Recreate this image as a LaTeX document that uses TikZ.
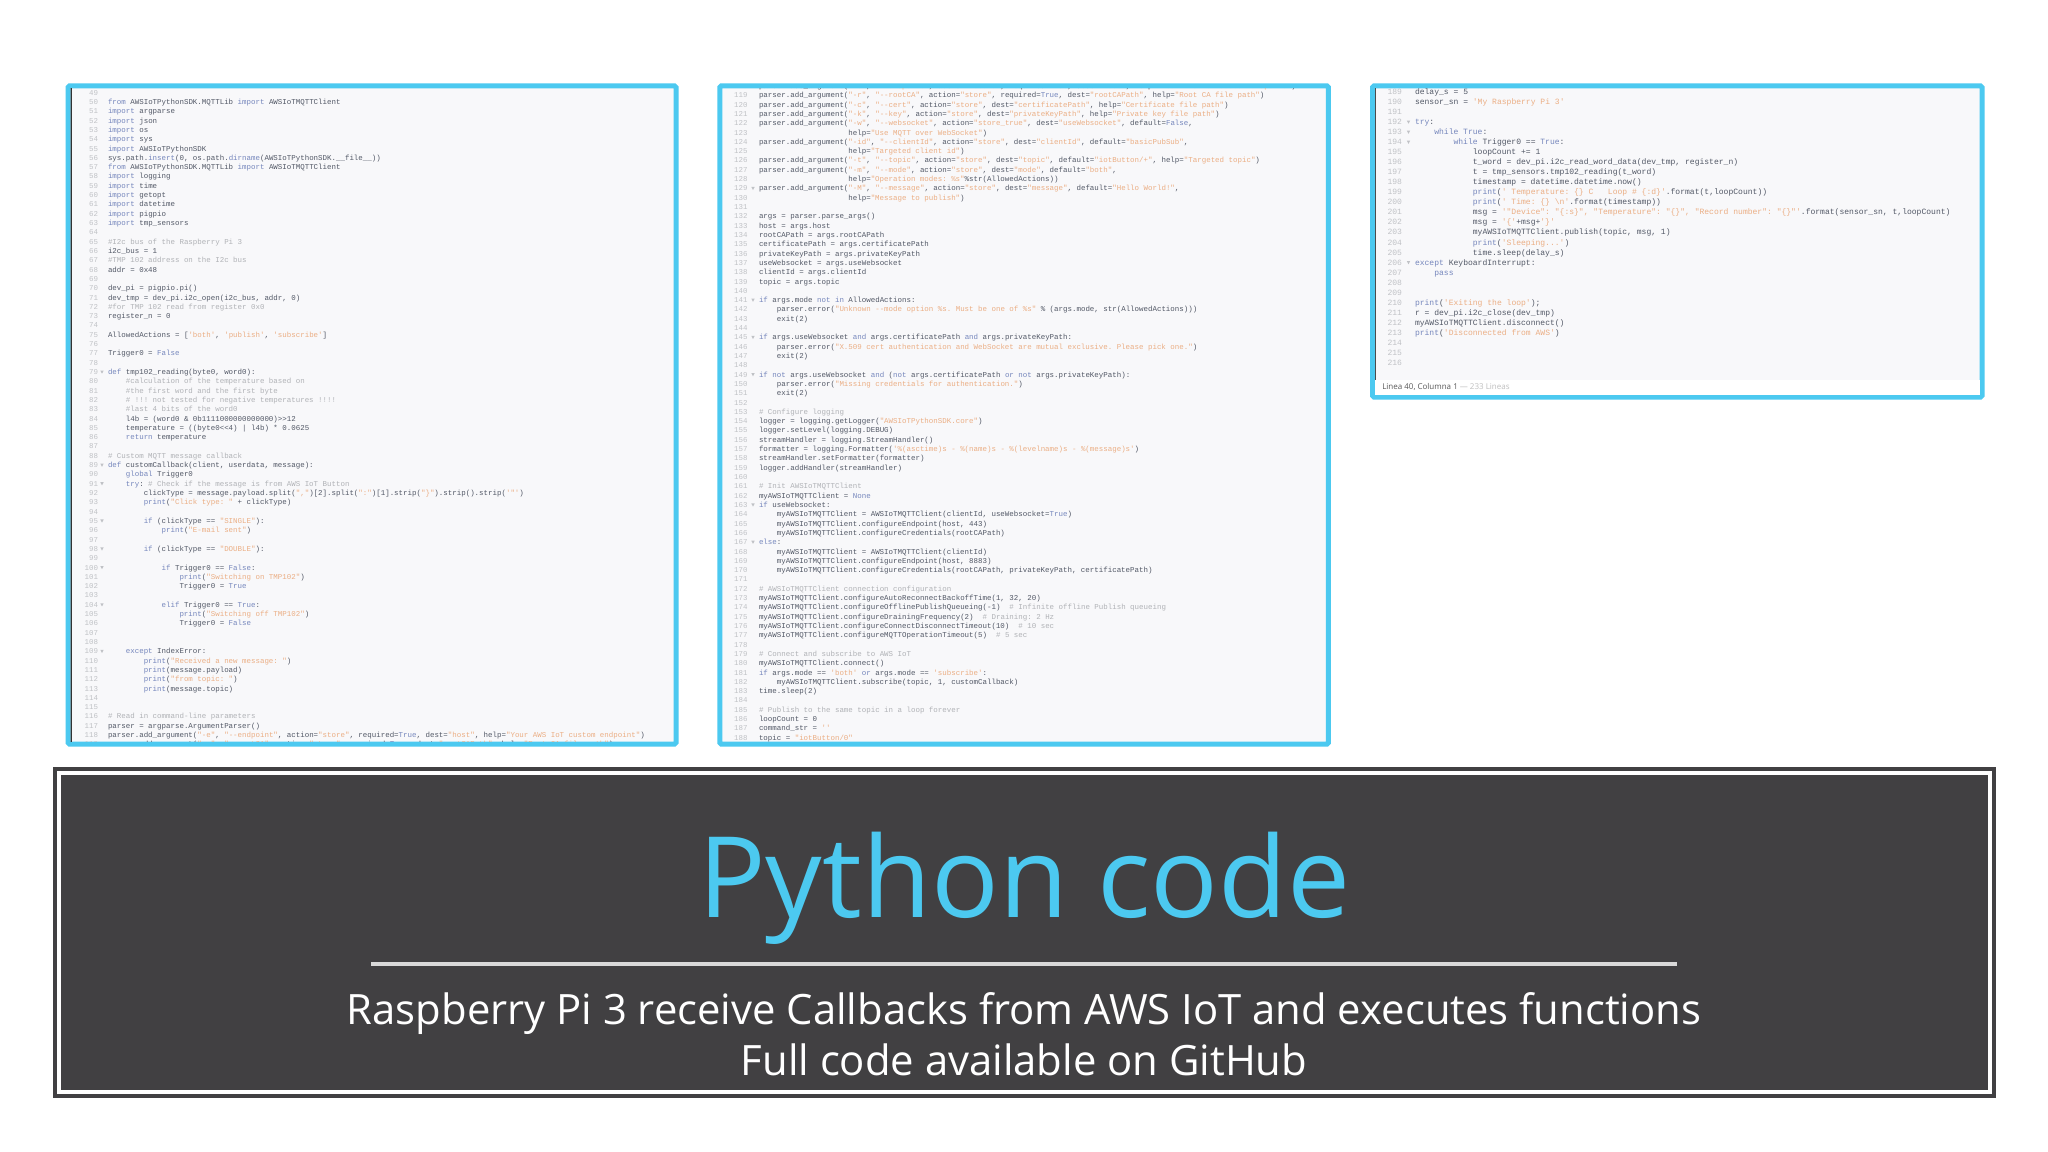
\documentclass[tikz,border=0pt]{standalone}
\usepackage{fontspec}
\setmainfont{Open Sans}
\setmonofont{Liberation Mono}
\definecolor{frameblue}{HTML}{4CC9F0}
\definecolor{darkbox}{HTML}{414042}
\definecolor{panelbg}{HTML}{F8F8FA}
\definecolor{codetxt}{HTML}{525866}
\definecolor{kwtxt}{HTML}{7586BC}
\definecolor{sgtxt}{HTML}{EBAE84}
\definecolor{cmtxt}{HTML}{B0B2B6}
\definecolor{nmtxt}{HTML}{C0C2C6}
\definecolor{rulegray}{HTML}{D9D9D9}
\newcommand\kw[1]{\textcolor{kwtxt}{#1}}
\newcommand\sg[1]{\textcolor{sgtxt}{#1}}
\newcommand\cmt[1]{\textcolor{cmtxt}{#1}}
\def\codefont{\fontsize{5.59}{7}\selectfont}
\def\cx{0}\def\cy{0}\def\cw{4.47}\def\dy{9.31}
\newcounter{linecount}
\newcommand\codeln[2][0]{%
  \node[codeline] (L\thelinecount) at ({\cx+#1*\cw},\cy) {\strut #2};%
  \stepcounter{linecount}%
  \pgfmathsetmacro\cy{\cy+\dy}}
\newcommand\blankln{\stepcounter{linecount}\pgfmathsetmacro\cy{\cy+\dy}}
\newcommand\foldmark[2]{\fill[nmtxt] ({#1-1.7},{#2-4}) -- ({#1+1.7},{#2-4}) -- (#1,{#2-0.8}) -- cycle;}
\tikzset{
  panel/.style={draw=frameblue,line width=3.75pt,fill=panelbg,rounded corners=1pt},
  codeline/.style={anchor=base west,inner sep=0pt,outer sep=0pt,text=codetxt,font=\ttfamily\codefont},
  lnum/.style={anchor=base east,inner sep=0pt,outer sep=0pt,text=nmtxt,font=\ttfamily\codefont},
}
\begin{document}
\begin{tikzpicture}[x=0.75pt,y=-0.75pt]
\useasboundingbox (0,0) rectangle (2048,1152);
\fill[white] (0,0) rectangle (2048,1152);

% ---------- panel 1
\draw[panel] (68,86) rectangle (676,744);
\begin{scope}
\clip (70.5,88.5) rectangle (673.5,741.5);
\fill[black!80] (69,88) rectangle (71.6,742);
\foreach \n in {49,...,119} {\node[lnum] at (98,{95.2+(\n-49)*9.31}) {\n};}
\foreach \n in {79,89,91,95,98,100,104,109} {\foldmark{102}{95.2+(\n-49)*9.31}}
\def\cx{108}\def\cy{95.2}\def\cw{4.47}\def\dy{9.31}
\blankln
\codeln{\kw{from} AWSIoTPythonSDK.MQTTLib \kw{import} AWSIoTMQTTClient}
\codeln{\kw{import} argparse}
\codeln{\kw{import} json}
\codeln{\kw{import} os}
\codeln{\kw{import} sys}
\codeln{\kw{import} AWSIoTPythonSDK}
\codeln{sys.path.\kw{insert}(0, os.path.\kw{dirname}(AWSIoTPythonSDK.\_\_file\_\_))}
\codeln{\kw{from} AWSIoTPythonSDK.MQTTLib \kw{import} AWSIoTMQTTClient}
\codeln{\kw{import} logging}
\codeln{\kw{import} time}
\codeln{\kw{import} getopt}
\codeln{\kw{import} datetime}
\codeln{\kw{import} pigpio}
\codeln{\kw{import} tmp\_sensors}
\blankln
\codeln{\cmt{\#I2c bus of the Raspberry Pi 3}}
\codeln{i2c\_bus = 1}
\codeln{\cmt{\#TMP 102 address on the I2c bus}}
\codeln{addr = 0x48}
\blankln
\codeln{dev\_pi = pigpio.pi()}
\codeln{dev\_tmp = dev\_pi.i2c\_open(i2c\_bus, addr, 0)}
\codeln{\cmt{\#for TMP 102 read from register 0x0}}
\codeln{register\_n = 0}
\blankln
\codeln{AllowedActions = [\sg{'both'}, \sg{'publish'}, \sg{'subscribe'}]}
\blankln
\codeln{Trigger0 = \kw{False}}
\blankln
\codeln{\kw{def} tmp102\_reading(byte0, word0):}
\codeln[4]{\cmt{\#calculation of the temperature based on}}
\codeln[4]{\cmt{\#the first word and the first byte}}
\codeln[4]{\cmt{\# !!! not tested for negative temperatures !!!!}}
\codeln[4]{\cmt{\#last 4 bits of the word0}}
\codeln[4]{l4b = (word0 \& 0b1111000000000000)>>12}
\codeln[4]{temperature = ((byte0<<4) | l4b) * 0.0625}
\codeln[4]{\kw{return} temperature}
\blankln
\codeln{\cmt{\# Custom MQTT message callback}}
\codeln{\kw{def} customCallback(client, userdata, message):}
\codeln[4]{\kw{global} Trigger0}
\codeln[4]{\kw{try}: \cmt{\# Check if the message is from AWS IoT Button}}
\codeln[8]{clickType = message.payload.split(\sg{","})[2].split(\sg{":"})[1].strip(\sg{"\}"}).strip().strip(\sg{'"'})}
\codeln[8]{\kw{print}(\sg{"Click type: "} + clickType)}
\blankln
\codeln[8]{\kw{if} (clickType == \sg{"SINGLE"}):}
\codeln[12]{\kw{print}(\sg{"E-mail sent"})}
\blankln
\codeln[8]{\kw{if} (clickType == \sg{"DOUBLE"}):}
\blankln
\codeln[12]{\kw{if} Trigger0 == \kw{False}:}
\codeln[16]{\kw{print}(\sg{"Switching on TMP102"})}
\codeln[16]{Trigger0 = \kw{True}}
\blankln
\codeln[12]{\kw{elif} Trigger0 == \kw{True}:}
\codeln[16]{\kw{print}(\sg{"Switching off TMP102"})}
\codeln[16]{Trigger0 = \kw{False}}
\blankln
\blankln
\codeln[4]{\kw{except} IndexError:}
\codeln[8]{\kw{print}(\sg{"Received a new message: "})}
\codeln[8]{\kw{print}(message.payload)}
\codeln[8]{\kw{print}(\sg{"from topic: "})}
\codeln[8]{\kw{print}(message.topic)}
\blankln
\blankln
\codeln{\cmt{\# Read in command-line parameters}}
\codeln{parser = argparse.ArgumentParser()}
\codeln{parser.add\_argument(\sg{"-e"}, \sg{"--endpoint"}, action=\sg{"store"}, required=\kw{True}, dest=\sg{"host"}, help=\sg{"Your AWS IoT custom endpoint"})}
\codeln{parser.add\_argument(\sg{"-r"}, \sg{"--rootCA"}, action=\sg{"store"}, required=\kw{True}, dest=\sg{"rootCAPath"}, help=\sg{"Root CA file path"})}
\end{scope}

% ---------- panel 2
\draw[panel] (719.8,86) rectangle (1328.3,744);
\begin{scope}
\clip (722.3,88.5) rectangle (1325.8,741.5);
\foreach \n in {118,...,188} {\node[lnum] at (747.5,{88.5+(\n-118)*9.31}) {\n};}
\foreach \n in {129,141,145,149,163,167} {\foldmark{753}{88.5+(\n-118)*9.31}}
\def\cx{759}\def\cy{88.5}\def\cw{4.47}\def\dy{9.31}
\codeln{parser.add\_argument(\sg{"-e"}, \sg{"--endpoint"}, action=\sg{"store"}, required=\kw{True}, dest=\sg{"host"}, help=\sg{"Your AWS IoT custom endpoint"})}
\codeln{parser.add\_argument(\sg{"-r"}, \sg{"--rootCA"}, action=\sg{"store"}, required=\kw{True}, dest=\sg{"rootCAPath"}, help=\sg{"Root CA file path"})}
\codeln{parser.add\_argument(\sg{"-c"}, \sg{"--cert"}, action=\sg{"store"}, dest=\sg{"certificatePath"}, help=\sg{"Certificate file path"})}
\codeln{parser.add\_argument(\sg{"-k"}, \sg{"--key"}, action=\sg{"store"}, dest=\sg{"privateKeyPath"}, help=\sg{"Private key file path"})}
\codeln{parser.add\_argument(\sg{"-w"}, \sg{"--websocket"}, action=\sg{"store\_true"}, dest=\sg{"useWebsocket"}, default=\kw{False},}
\codeln[20]{help=\sg{"Use MQTT over WebSocket"})}
\codeln{parser.add\_argument(\sg{"-id"}, \sg{"--clientId"}, action=\sg{"store"}, dest=\sg{"clientId"}, default=\sg{"basicPubSub"},}
\codeln[20]{help=\sg{"Targeted client id"})}
\codeln{parser.add\_argument(\sg{"-t"}, \sg{"--topic"}, action=\sg{"store"}, dest=\sg{"topic"}, default=\sg{"iotButton/+"}, help=\sg{"Targeted topic"})}
\codeln{parser.add\_argument(\sg{"-m"}, \sg{"--mode"}, action=\sg{"store"}, dest=\sg{"mode"}, default=\sg{"both"},}
\codeln[20]{help=\sg{"Operation modes: \%s"}\%str(AllowedActions))}
\codeln{parser.add\_argument(\sg{"-M"}, \sg{"--message"}, action=\sg{"store"}, dest=\sg{"message"}, default=\sg{"Hello World!"},}
\codeln[20]{help=\sg{"Message to publish"})}
\blankln
\codeln{args = parser.parse\_args()}
\codeln{host = args.host}
\codeln{rootCAPath = args.rootCAPath}
\codeln{certificatePath = args.certificatePath}
\codeln{privateKeyPath = args.privateKeyPath}
\codeln{useWebsocket = args.useWebsocket}
\codeln{clientId = args.clientId}
\codeln{topic = args.topic}
\blankln
\codeln{\kw{if} args.mode \kw{not in} AllowedActions:}
\codeln[4]{parser.error(\sg{"Unknown --mode option \%s. Must be one of \%s"} \% (args.mode, str(AllowedActions)))}
\codeln[4]{exit(2)}
\blankln
\codeln{\kw{if} args.useWebsocket \kw{and} args.certificatePath \kw{and} args.privateKeyPath:}
\codeln[4]{parser.error(\sg{"X.509 cert authentication and WebSocket are mutual exclusive. Please pick one."})}
\codeln[4]{exit(2)}
\blankln
\codeln{\kw{if not} args.useWebsocket \kw{and} (\kw{not} args.certificatePath \kw{or not} args.privateKeyPath):}
\codeln[4]{parser.error(\sg{"Missing credentials for authentication."})}
\codeln[4]{exit(2)}
\blankln
\codeln{\cmt{\# Configure logging}}
\codeln{logger = logging.getLogger(\sg{"AWSIoTPythonSDK.core"})}
\codeln{logger.setLevel(logging.DEBUG)}
\codeln{streamHandler = logging.StreamHandler()}
\codeln{formatter = logging.Formatter(\sg{'\%(asctime)s - \%(name)s - \%(levelname)s - \%(message)s'})}
\codeln{streamHandler.setFormatter(formatter)}
\codeln{logger.addHandler(streamHandler)}
\blankln
\codeln{\cmt{\# Init AWSIoTMQTTClient}}
\codeln{myAWSIoTMQTTClient = \kw{None}}
\codeln{\kw{if} useWebsocket:}
\codeln[4]{myAWSIoTMQTTClient = AWSIoTMQTTClient(clientId, useWebsocket=\kw{True})}
\codeln[4]{myAWSIoTMQTTClient.configureEndpoint(host, 443)}
\codeln[4]{myAWSIoTMQTTClient.configureCredentials(rootCAPath)}
\codeln{\kw{else}:}
\codeln[4]{myAWSIoTMQTTClient = AWSIoTMQTTClient(clientId)}
\codeln[4]{myAWSIoTMQTTClient.configureEndpoint(host, 8883)}
\codeln[4]{myAWSIoTMQTTClient.configureCredentials(rootCAPath, privateKeyPath, certificatePath)}
\blankln
\codeln{\cmt{\# AWSIoTMQTTClient connection configuration}}
\codeln{myAWSIoTMQTTClient.configureAutoReconnectBackoffTime(1, 32, 20)}
\codeln{myAWSIoTMQTTClient.configureOfflinePublishQueueing(-1)~~\cmt{\# Infinite offline Publish queueing}}
\codeln{myAWSIoTMQTTClient.configureDrainingFrequency(2)~~\cmt{\# Draining: 2 Hz}}
\codeln{myAWSIoTMQTTClient.configureConnectDisconnectTimeout(10)~~\cmt{\# 10 sec}}
\codeln{myAWSIoTMQTTClient.configureMQTTOperationTimeout(5)~~\cmt{\# 5 sec}}
\blankln
\codeln{\cmt{\# Connect and subscribe to AWS IoT}}
\codeln{myAWSIoTMQTTClient.connect()}
\codeln{\kw{if} args.mode == \sg{'both'} \kw{or} args.mode == \sg{'subscribe'}:}
\codeln[4]{myAWSIoTMQTTClient.subscribe(topic, 1, customCallback)}
\codeln{time.sleep(2)}
\blankln
\codeln{\cmt{\# Publish to the same topic in a loop forever}}
\codeln{loopCount = 0}
\codeln{command\_str = \sg{''}}
\codeln{topic = \sg{"iotButton/0"}}
\end{scope}

% ---------- panel 3
\draw[panel] (1372.5,86) rectangle (1982,397);
\fill[white] (1375,380) rectangle (1979.5,394.5);
\fill[black!70] (1374.6,88.5) rectangle (1376.2,380);
\begin{scope}
\def\codefont{\fontsize{6.03}{7}\selectfont}
\clip (1375,88.5) rectangle (1979.5,394.5);
\foreach \n in {189,...,216} {\node[lnum] at (1402,{94.4+(\n-189)*10.04}) {\n};}
\foreach \n in {192,193,194,206} {\foldmark{1408.5}{94.4+(\n-189)*10.04}}
\def\cx{1415}\def\cy{94.4}\def\cw{4.82}\def\dy{10.04}
\codeln{delay\_s = 5}
\codeln{sensor\_sn = \sg{'My Raspberry Pi 3'}}
\blankln
\codeln{\kw{try}:}
\codeln[4]{\kw{while True}:}
\codeln[8]{\kw{while} Trigger0 == \kw{True}:}
\codeln[12]{loopCount += 1}
\codeln[12]{t\_word = dev\_pi.i2c\_read\_word\_data(dev\_tmp, register\_n)}
\codeln[12]{t = tmp\_sensors.tmp102\_reading(t\_word)}
\codeln[12]{timestamp = datetime.datetime.now()}
\codeln[12]{\kw{print}(\sg{' Temperature: \{\} C~~~Loop \# \{:d\}'}.format(t,loopCount))}
\codeln[12]{\kw{print}(\sg{' Time: \{\} \textbackslash n'}.format(timestamp))}
\codeln[12]{msg = \sg{'"Device": "\{:s\}", "Temperature": "\{\}", "Record number": "\{\}"'}.format(sensor\_sn, t,loopCount)}
\codeln[12]{msg = \sg{'\{'}+msg+\sg{'\}'}}
\codeln[12]{myAWSIoTMQTTClient.publish(topic, msg, 1)}
\codeln[12]{\kw{print}(\sg{'Sleeping...'})}
\codeln[12]{time.sleep(delay\_s)}
\codeln{\kw{except} KeyboardInterrupt:}
\codeln[4]{\kw{pass}}
\blankln
\blankln
\codeln{\kw{print}(\sg{'Exiting the loop'});}
\codeln{r = dev\_pi.i2c\_close(dev\_tmp)}
\codeln{myAWSIoTMQTTClient.disconnect()}
\codeln{\kw{print}(\sg{'Disconnected from AWS'})}
\end{scope}
\node[anchor=base west,inner sep=0pt,font=\fontsize{6}{7}\selectfont,text=black!65] (status) at (1382,389) {Linea 40, Columna 1 \textcolor{black!25}{— 233 Lineas}};

% ---------- title box
\fill[darkbox] (53,767) rectangle (1996,1098);
\draw[white,line width=3pt] (59,773) rectangle (1990,1092);
\node[anchor=base,inner sep=0pt,text=frameblue,font=\fontsize{84.3}{100}\selectfont] (title) at (1024.5,917) {Python code};
\coordinate (ruleL) at (371,964);
\coordinate (ruleR) at (1677,964);
\draw[rulegray,line width=2.6pt] (ruleL) -- (ruleR);
\node[anchor=base,inner sep=0pt,text=white,font=\fontsize{31.35}{40}\selectfont] (sub1) at (1024,1024) {Raspberry Pi 3 receive Callbacks from AWS IoT and executes functions};
\node[anchor=base,inner sep=0pt,text=white,font=\fontsize{31.35}{40}\selectfont] (sub2) at (1024,1075) {Full code available on GitHub};
\end{tikzpicture}
\end{document}
